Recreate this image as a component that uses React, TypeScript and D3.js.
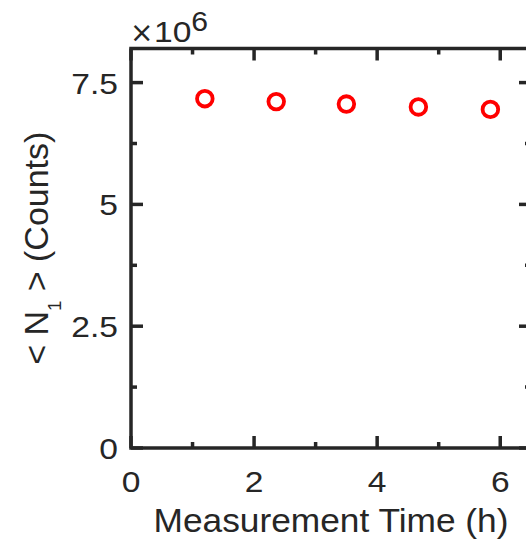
import React from "react";
import * as d3 from "d3";

const times = [1.2, 2.36, 3.5, 4.67, 5.84];
const counts = [7.17e6, 7.11e6, 7.06e6, 7.0e6, 6.95e6];
const xMajorTicks = [0, 2, 4, 6];
const xMinorTicks = [1, 3, 5];
const yMajorTicks = [0, 2.5e6, 5e6, 7.5e6];
const yMinorTicks = [1.25e6, 3.75e6, 6.25e6];
const yTickLabels = ["0", "2.5", "5", "7.5"];
const xLabel = "Measurement Time (h)";
const yLabelParts = ["< N", "1", " > (Counts)"];

const W = 526;
const H = 541;
const L = 131, R = 531, T = 48.5, B = 448;
const AX = "#262626";
const FONT = "'Liberation Sans', Arial, Helvetica, sans-serif";
const SX = 1.12;

export default function App() {
  const x = d3.scaleLinear().domain([0, 6.5]).range([L, R]);
  const y = d3.scaleLinear().domain([0, 8.2e6]).range([B, T]);
  const major = 12;
  const minor = 6;
  const sw = 3.5;
  return (
    <svg width={W} height={H} style={{ position: "absolute", left: 0, top: 0 }} fontFamily={FONT}>
      <rect width={W} height={H} fill="#fff" />
      <g stroke={AX} strokeWidth={sw}>
        {xMajorTicks.map((t) => (
          <g key={"xM" + t}>
            <line x1={x(t)} x2={x(t)} y1={B} y2={B - major} />
            <line x1={x(t)} x2={x(t)} y1={T} y2={T + major} />
          </g>
        ))}
        {xMinorTicks.map((t) => (
          <g key={"xm" + t}>
            <line x1={x(t)} x2={x(t)} y1={B} y2={B - minor} />
            <line x1={x(t)} x2={x(t)} y1={T} y2={T + minor} />
          </g>
        ))}
        {yMajorTicks.map((t) => (
          <g key={"yM" + t}>
            <line x1={L} x2={L + major} y1={y(t)} y2={y(t)} />
            <line x1={R} x2={R - major} y1={y(t)} y2={y(t)} />
          </g>
        ))}
        {yMinorTicks.map((t) => (
          <g key={"ym" + t}>
            <line x1={L} x2={L + minor} y1={y(t)} y2={y(t)} />
            <line x1={R} x2={R - minor} y1={y(t)} y2={y(t)} />
          </g>
        ))}
      </g>
      <rect x={L} y={T} width={R - L} height={B - T} fill="none" stroke={AX} strokeWidth={sw} />
      <g fill={AX} fontSize={30}>
        {xMajorTicks.map((t) => (
          <text key={"xl" + t} transform={`translate(${x(t)},${492}) scale(${SX},1)`} textAnchor="middle">
            {String(t)}
          </text>
        ))}
        {yMajorTicks.map((t, i) => (
          <text key={"yl" + t} transform={`translate(${118},${y(t) + 11}) scale(${SX},1)`} textAnchor="end">
            {yTickLabels[i]}
          </text>
        ))}
        <text fontSize={33} transform={`translate(${(L + R) / 2},${532}) scale(1.07,1)`} textAnchor="middle">
          {xLabel}
        </text>
        <text fontSize={33} transform={`translate(${47.5},${(T + B) / 2}) rotate(-90) scale(1.03,1)`} textAnchor="middle">
          {yLabelParts[0]}
          <tspan fontSize={18} dy={13}>{yLabelParts[1]}</tspan>
          <tspan dy={-13}>{yLabelParts[2]}</tspan>
        </text>
        <text x={130} y={42} fontSize={28} fontFamily="'DejaVu Sans', sans-serif">×</text>
        <text transform={`translate(${154},${42}) scale(${SX},1)`}>
          <tspan>10</tspan>
          <tspan fontSize={27} dy={-11}>6</tspan>
        </text>
      </g>
      <g fill="none" stroke="#ff0000" strokeWidth={3.8}>
        {times.map((t, i) => (
          <circle key={i} cx={x(t)} cy={y(counts[i])} r={7.8} />
        ))}
      </g>
    </svg>
  );
}
